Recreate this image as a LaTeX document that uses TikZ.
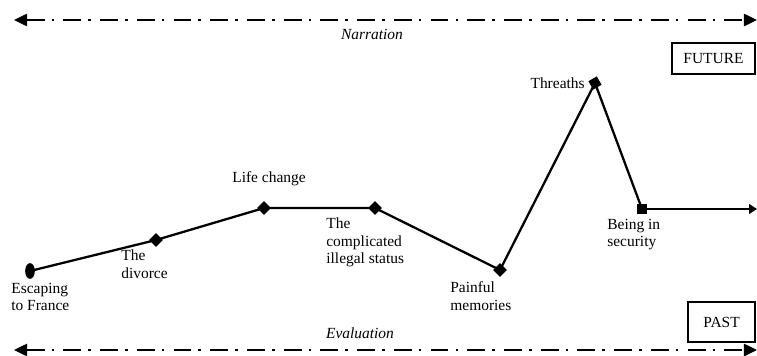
\documentclass[tikz,border=0pt]{standalone}
\usepackage{fontspec}
\setmainfont{Liberation Serif}
\usepackage{tikz}
\usetikzlibrary{arrows.meta,shapes.geometric}

\begin{document}
\begin{tikzpicture}[x=0.02cm, y=-0.02cm,
    font=\fontsize{8.8}{10}\selectfont,
    timeline/.style={line width=1.2pt, dash pattern=on 10.2pt off 4pt on 1.5pt off 5.2pt,
        {Triangle[length=7.5pt,width=7pt]}-{Triangle[length=7.5pt,width=7pt]}},
    story/.style={line width=1.3pt},
    event/.style={rectangle, fill=black, rotate=45, minimum size=5.5pt, inner sep=0pt},
    lab/.style={align=left, anchor=north west, inner sep=0pt}]
    \useasboundingbox (0,0) rectangle (757,355);
    % axes
    \coordinate (narrL) at (14,20);
    \coordinate (narrR) at (757,20);
    \coordinate (evalL) at (14,350);
    \coordinate (evalR) at (757,350);
    \draw[timeline] (narrL) -- (narrR);
    \draw[timeline] (evalL) -- (evalR);
    \node[anchor=base, font=\fontsize{8.8}{10}\selectfont\itshape] (narr) at (372,39) {Narration};
    \node[anchor=base, font=\fontsize{8.8}{10}\selectfont\itshape] (eval) at (360,338) {Evaluation};
    \draw[line width=0.9pt] (672,43) rectangle (755,74);
    \node (future) at (713.5,58.5) {FUTURE};
    \draw[line width=0.9pt] (688,302) rectangle (755,342);
    \node (past) at (721.5,322) {PAST};
    % events
    \node[ellipse, fill=black, minimum width=5.5pt, minimum height=9pt, inner sep=0pt] (esc) at (30,271) {};
    \node[event] (div) at (156,240) {};
    \node[event] (life) at (264,208) {};
    \node[event] (comp) at (375,208) {};
    \node[event] (pain) at (500,270) {};
    \node[event, rotate=-15] (threat) at (595,83) {};
    \node[event, rotate=-45] (safe) at (642,209) {};
    \coordinate (now) at (757,209);
    \draw[story] (esc.center) -- (div.center) -- (life.center) -- (comp.center)
        -- (pain.center) -- (threat.center) -- (safe.center);
    \draw[story, -{Triangle[length=4.5pt,width=5.5pt]}] (safe.center) -- (now);
    % labels
    \node[lab] (escL) at (11,282.5) {Escaping\\to France};
    \node[lab] (divL) at (121,249.5) {The\\divorce};
    \node[anchor=base west, inner sep=0pt] (lifeL) at (232,182) {Life change};
    \node[lab] (compL) at (326,217.5) {The\\complicated\\illegal status};
    \node[lab] (painL) at (450,281.5) {Painful\\memories};
    \node[anchor=base east, inner sep=0pt] (threatL) at (585,88) {Threaths};
    \node[lab] (safeL) at (607,218.5) {Being in\\security};
\end{tikzpicture}
\end{document}
